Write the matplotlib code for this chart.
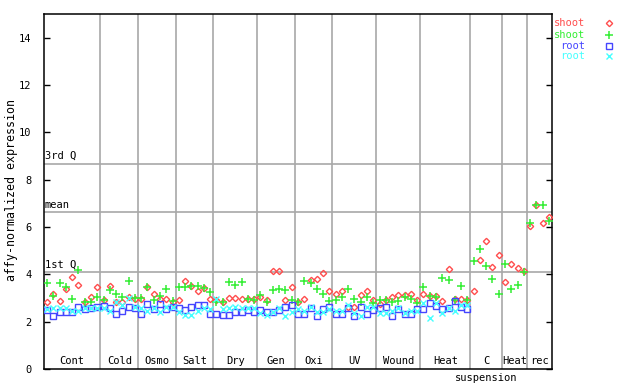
import matplotlib
matplotlib.use("Agg")
import matplotlib.pyplot as plt
import numpy as np

# ---- data ----
groups = ["Cont", "Cold", "Osmo", "Salt", "Dry", "Gen", "Oxi", "UV", "Wound",
          "Heat", "C\nsuspension", "Heat", "rec"]
group_sizes = [9, 6, 6, 6, 7, 6, 6, 7, 7, 8, 5, 4, 4]

shoot_red = [2.84, 3.19, 2.88, 3.36, 3.87, 3.57, 2.85, 3.03, 3.47,
             2.92, 3.50, 2.83, 2.85, 3.03, 2.97,
             2.95, 3.45, 3.15, 2.95, 2.97, 2.85,
             2.93, 3.71, 3.52, 3.29, 3.41, 2.95,
             2.92, 2.85, 3.00, 3.00, 2.97, 2.97, 2.97,
             3.05, 2.93, 4.13, 4.13, 2.90, 3.45,
             2.83, 2.97, 3.76, 3.80, 4.04, 3.29,
             3.19, 3.29, 2.62, 2.62, 3.12, 3.29, 2.93,
             2.75, 2.90, 3.05, 3.12, 3.12, 3.19, 2.91,
             3.19, 3.08, 3.08, 2.87, 4.21, 2.95, 2.94, 2.90,
             3.28, 4.60, 5.41, 4.33, 4.80,
             3.66, 4.43, 4.26, 4.12,
             6.06, 6.91, 6.16, 6.41]

shoot_green = [3.62, 3.09, 3.62, 3.45, 2.94, 4.18, 2.83, 2.85, 3.03,
               2.92, 3.33, 3.15, 3.06, 3.71, 3.00,
               3.01, 3.45, 2.90, 3.07, 3.40, 2.88,
               3.45, 3.45, 3.52, 3.50, 3.41, 3.24,
               2.83, 2.83, 3.66, 3.57, 3.66, 2.97, 2.90,
               3.12, 2.83, 3.33, 3.37, 3.33, 2.90,
               2.85, 3.71, 3.62, 3.36, 3.15, 2.86,
               2.93, 3.03, 3.40, 2.97, 2.85, 3.05, 2.80,
               2.90, 2.90, 2.85, 2.88, 3.03, 2.95, 2.80,
               3.47, 3.08, 3.05, 3.85, 3.76, 2.92, 3.50, 2.90,
               4.56, 5.05, 4.37, 3.80, 3.16,
               4.43, 3.38, 3.57, 4.08,
               6.16, 6.91, 6.91, 6.24]

root_blue = [2.49, 2.24, 2.39, 2.39, 2.39, 2.60, 2.52, 2.56, 2.63,
             2.66, 2.56, 2.31, 2.45, 2.60, 2.56,
             2.31, 2.73, 2.55, 2.73, 2.52, 2.60,
             2.56, 2.49, 2.60, 2.70, 2.70, 2.34,
             2.34, 2.28, 2.28, 2.39, 2.42, 2.49, 2.42,
             2.49, 2.42, 2.42, 2.49, 2.63, 2.70,
             2.34, 2.34, 2.56, 2.22, 2.52, 2.62,
             2.31, 2.31, 2.56, 2.24, 2.62, 2.31, 2.49,
             2.59, 2.62, 2.25, 2.52, 2.34, 2.34, 2.52,
             2.52, 2.77, 2.66, 2.52, 2.56, 2.86, 2.63, 2.52]

root_cyan = [2.52, 2.59, 2.59, 2.59, 2.45, 2.45, 2.56, 2.59, 2.59,
             2.56, 2.45, 2.83, 2.70, 3.02, 2.62,
             2.59, 2.45, 2.59, 2.39, 2.62, 2.60,
             2.39, 2.28, 2.28, 2.45, 2.59, 2.52,
             2.97, 2.52, 2.56, 2.62, 2.59, 2.56, 2.59,
             2.35, 2.28, 2.42, 2.59, 2.26, 2.42,
             2.52, 2.45, 2.63, 2.42, 2.42, 2.52,
             2.45, 2.45, 2.70, 2.38, 2.24, 2.63, 2.63,
             2.38, 2.38, 2.45, 2.56, 2.38, 2.45, 2.45,
             2.78, 2.14, 2.80, 2.38, 2.56, 2.45, 2.70, 2.72]

quartiles = {"1st Q": 4.08, "mean": 6.62, "3rd Q": 8.68}
yticks = [0, 2, 4, 6, 8, 10, 12, 14]
legend_labels = ["shoot", "shoot", "root", "root"]

# ---- style ----
RED = "#ff4d4d"
GREEN = "#33ee33"
BLUE = "#4545ff"
CYAN = "#44ffff"
GRID = "#a8a8a8"
FONT = "DejaVu Sans Mono"
FS = 7.5

fig = plt.figure(figsize=(6.4, 3.84), dpi=100)
ax = fig.add_axes([44/640, 15/384, 508/640, 355/384])

n_total = sum(group_sizes)
ax.set_xlim(-0.5, n_total - 0.5)
ax.set_ylim(0, 15)

# separators
bounds = np.cumsum(group_sizes)[:-1] - 0.5
for b in bounds:
    ax.axvline(b, color=GRID, lw=1.2, zorder=1)
for name, v in quartiles.items():
    ax.axhline(v, color=GRID, lw=1.2, zorder=1)
    ax.text(-0.4, v + 0.1, name, fontsize=FS, family=FONT, ha="left",
            va="bottom", zorder=2)

# group labels
starts = np.concatenate([[0], np.cumsum(group_sizes)[:-1]])
trans = matplotlib.transforms.blended_transform_factory(ax.transData, ax.transAxes)
for g, s, n in zip(groups, starts, group_sizes):
    cx = s + (n - 1) / 2
    if "\n" in g:
        a, b = g.split("\n")
        ax.text(cx, 0.008, a, fontsize=FS, family=FONT, ha="center", va="bottom", transform=trans)
        ax.text(cx, -0.012, b, fontsize=FS, family=FONT, ha="center", va="top",
                transform=trans, clip_on=False)
    else:
        ax.text(cx, 0.008, g, fontsize=FS, family=FONT, ha="center", va="bottom", transform=trans)

mk_red = dict(marker="D", ms=3.2, mfc="none", mec=RED, mew=1.0)
mk_green = dict(marker="+", ms=5.5, mec=GREEN, mew=1.1)
mk_blue = dict(marker="s", ms=3.8, mfc="none", mec=BLUE, mew=1.0)
mk_cyan = dict(marker="x", ms=4.2, mec=CYAN, mew=1.0)

x_sh = np.arange(len(shoot_red))
x_rt = np.arange(len(root_blue))
ax.plot(x_sh, shoot_red, ls="none", zorder=3, **mk_red)
ax.plot(x_sh, shoot_green, ls="none", zorder=3, **mk_green)
ax.plot(x_rt, root_blue, ls="none", zorder=3, **mk_blue)
ax.plot(x_rt, root_cyan, ls="none", zorder=3, **mk_cyan)

ax.set_yticks(yticks)
ax.set_yticklabels([str(t) for t in yticks], family=FONT, fontsize=FS)
ax.tick_params(axis="y", direction="in", length=4, width=1, right=True, left=True, pad=9)
ax.tick_params(axis="x", bottom=False, labelbottom=False)
for sp in ax.spines.values():
    sp.set_linewidth(1.1)
    sp.set_color("black")
fig.text(12/640, 1 - 190/384, "affy-normalized expression", family=FONT, fontsize=8.4,
         rotation=90, ha="center", va="center")

# legend (manual)
leg_colors = [RED, GREEN, BLUE, CYAN]
leg_markers = [mk_red, mk_green, mk_blue, mk_cyan]
ys = [361, 349, 338.3, 328]
for lab, c, mk, y in zip(legend_labels, leg_colors, leg_markers, ys):
    fig.text(585/640, y/384, lab, color=c, family=FONT, fontsize=FS, ha="right", va="center")
    fig.add_artist(matplotlib.lines.Line2D([609/640], [y/384], ls="none",
                                           transform=fig.transFigure, **mk))

fig.savefig("out.png", dpi=100)
